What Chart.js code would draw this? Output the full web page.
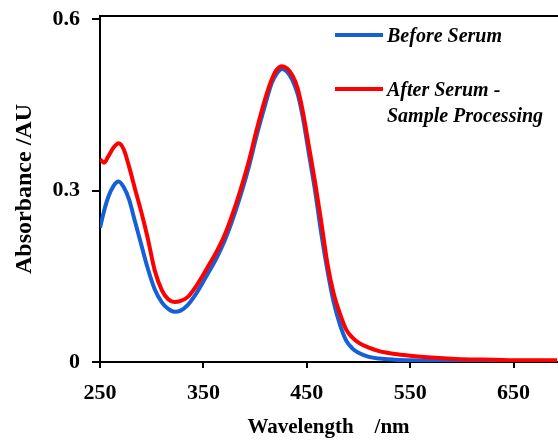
<!DOCTYPE html>
<html><head><meta charset="utf-8">
<script src="https://cdn.jsdelivr.net/npm/chart.js@4"></script>
<style>html,body{margin:0;padding:0;background:#fff}#wrap{width:558px;height:441px;position:relative}</style>
</head><body><div id="wrap"><canvas id="c"></canvas></div>
<script>
const wavelengths = [250,254,258,263,268,273,278,284,290,296,303,310,316,322,328,335,342,349,356,363,370,378,386,394,402,410,416,421,426,431,436,441,446,452,458,464,470,476,482,488,494,500,510,520,535,550,570,600,630,660,692];
const beforeSerum = [0.235,0.265,0.289,0.308,0.316,0.306,0.285,0.245,0.205,0.165,0.127,0.104,0.093,0.088,0.090,0.100,0.117,0.138,0.160,0.183,0.210,0.248,0.292,0.342,0.400,0.452,0.488,0.505,0.513,0.508,0.494,0.470,0.430,0.365,0.300,0.225,0.160,0.105,0.066,0.038,0.024,0.016,0.009,0.006,0.004,0.003,0.002,0.0015,0.001,0.001,0.001];
const afterSerum = [0.355,0.349,0.360,0.375,0.383,0.372,0.343,0.302,0.262,0.218,0.160,0.125,0.110,0.105,0.107,0.114,0.130,0.150,0.172,0.194,0.220,0.258,0.302,0.352,0.410,0.462,0.494,0.512,0.518,0.514,0.502,0.480,0.440,0.378,0.315,0.245,0.172,0.120,0.085,0.057,0.043,0.034,0.025,0.019,0.014,0.011,0.008,0.005,0.004,0.003,0.003];
const xTicks = [250,350,450,550,650];
const yTicks = [0,0.3,0.6];
const seriesLabels = [["Before Serum"],["After Serum -","Sample Processing"]];
const seriesColors = ["#1560d6","#ff0000"];
const xTitle = "Wavelength    /nm";
const yTitle = "Absorbance /AU";

const toPts = arr => wavelengths.map((w,i)=>({x:w,y:arr[i]}));
const FONT = "'Liberation Serif','Times New Roman',serif";

const legendPlugin = {
  id:'customLegend',
  afterDraw(chart){
    const ctx = chart.ctx, ca = chart.chartArea;
    const lx0 = ca.right - 222, lx1 = ca.right - 174, tx = ca.right - 170;
    const rows = [[35,37],[89,91]];
    ctx.save();
    ctx.strokeStyle = '#000'; ctx.lineWidth = 2;
    ctx.beginPath(); ctx.moveTo(ca.left-1, ca.top); ctx.lineTo(ca.right+1, ca.top); ctx.stroke();
    chart.data.datasets.forEach((ds)=>{
      const idx = ds.legendIndex;
      const [ly, ty] = rows[idx];
      ctx.strokeStyle = ds.borderColor; ctx.lineWidth = 4;
      ctx.beginPath(); ctx.moveTo(lx0, ly); ctx.lineTo(lx1, ly); ctx.stroke();
      ctx.fillStyle = '#000';
      ctx.font = "italic bold 20px " + FONT;
      ctx.textBaseline = 'middle'; ctx.textAlign = 'left';
      seriesLabels[idx].forEach((t,j)=>ctx.fillText(t, tx, ty + j*26));
    });
    ctx.restore();
  }
};

new Chart(document.getElementById('c'), {
  type:'line',
  data:{datasets:[
    {label:seriesLabels[1].join(' '), legendIndex:1, data:toPts(afterSerum), borderColor:seriesColors[1], borderWidth:4, pointRadius:0, cubicInterpolationMode:'monotone', fill:false, order:0},
    {label:seriesLabels[0].join(' '), legendIndex:0, data:toPts(beforeSerum), borderColor:seriesColors[0], borderWidth:4, pointRadius:0, cubicInterpolationMode:'monotone', fill:false, order:1}
  ]},
  options:{
    responsive:true, maintainAspectRatio:false, animation:false,
    layout:{padding:{top:16,right:1,left:0,bottom:0}},
    plugins:{legend:{display:false}, tooltip:{enabled:false}},
    scales:{
      x:{type:'linear', min:250, max:692,
        afterBuildTicks:s=>{s.ticks = xTicks.map(v=>({value:v}));},
        afterFit:s=>{s.height = 79; s.paddingLeft = 0; s.paddingRight = 0;},
        grid:{drawOnChartArea:false, drawTicks:true, tickLength:6, lineWidth:2, color:'#000'},
        border:{display:true, color:'#000', width:2},
        ticks:{color:'#000', padding:12, maxRotation:0, font:{family:FONT, size:22, weight:'bold'}, callback:v=>String(v)},
        title:{display:true, text:xTitle, color:'#000', padding:{top:0,bottom:1}, font:{family:FONT, size:21, weight:'bold'}}
      },
      y:{type:'linear', min:0, max:0.6058,
        afterBuildTicks:s=>{s.ticks = yTicks.map(v=>({value:v}));},
        afterFit:s=>{s.width = 100; s.paddingTop = 0; s.paddingBottom = 0;},
        grid:{drawOnChartArea:false, drawTicks:true, tickLength:8, lineWidth:2, color:'#000'},
        border:{display:true, color:'#000', width:2},
        ticks:{color:'#000', padding:12, font:{family:FONT, size:22, weight:'bold'}, callback:v=>v===0?'0':v.toFixed(1)},
        title:{display:true, text:yTitle, color:'#000', padding:{top:10,bottom:0}, font:{family:FONT, size:24, weight:'bold'}}
      }
    }
  },
  plugins:[legendPlugin]
});
</script>
</body></html>
